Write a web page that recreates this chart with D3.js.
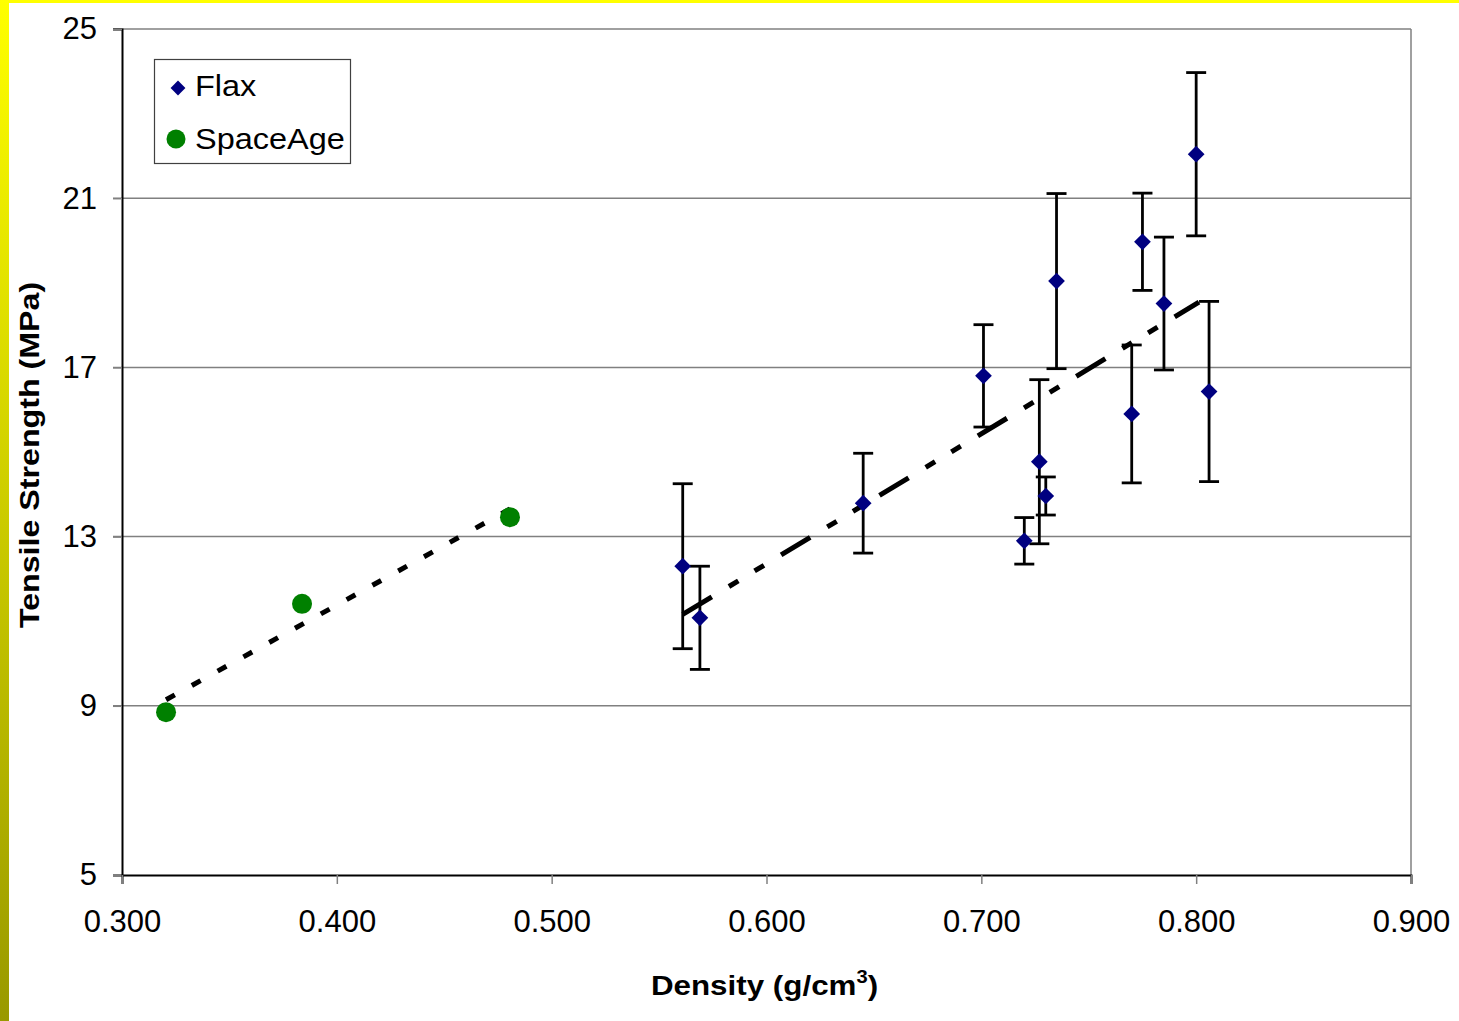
<!DOCTYPE html>
<html>
<head>
<meta charset="utf-8">
<script src="https://cdn.jsdelivr.net/npm/d3@7"></script>
<style>
  body { margin: 0; background: #fff; }
  svg { display: block; font-family: "Liberation Sans", Arial, sans-serif; }
</style>
</head>
<body>
<div id="chartContainer"></div>
<script>
// Flax samples: density, strength, error (+/-)
var flaxDensity = [0.561, 0.569, 0.645, 0.701, 0.720, 0.727, 0.730, 0.735, 0.770, 0.775, 0.785, 0.800, 0.806];
var flaxStrength = [12.30, 11.08, 13.79, 16.80, 12.90, 14.77, 13.96, 19.04, 15.90, 19.97, 18.51, 22.04, 16.43];
var flaxError = [1.95, 1.22, 1.18, 1.21, 0.55, 1.94, 0.45, 2.07, 1.63, 1.15, 1.57, 1.93, 2.13];
var flaxTrendRange = [0.561, 0.8013];

// SpaceAge samples
var spaceDensity = [0.3205, 0.3838, 0.4806];
var spaceStrength = [8.85, 11.41, 13.46];
var spaceTrendRange = [0.3205, 0.4806];

var yTicks = [5, 9, 13, 17, 21, 25];
var xTicks = [0.3, 0.4, 0.5, 0.6, 0.7, 0.8, 0.9];

var W = 1459, H = 1021;
var margin = {top: 29, right: 48, bottom: 146, left: 122};
var width = W - margin.left - margin.right,
    height = H - margin.top - margin.bottom;
var stretch = 1.12; // the titles/legend font runs wider than Liberation

var svg = d3.select("#chartContainer")
    .append("svg")
    .attr("width", W)
    .attr("height", H);

// yellow frame
var grad = svg.append("defs").append("linearGradient")
    .attr("id", "edge").attr("x1", 0).attr("y1", 0).attr("x2", 0).attr("y2", 1);
grad.append("stop").attr("offset", "0%").attr("stop-color", "#ffff00");
grad.append("stop").attr("offset", "100%").attr("stop-color", "#999900");
svg.append("rect").attr("x", 0).attr("y", 0).attr("width", W).attr("height", 3).attr("fill", "#ffff00");
svg.append("rect").attr("x", 0).attr("y", 0).attr("width", 9).attr("height", H).attr("fill", "url(#edge)");

var g = svg.append("g")
    .attr("transform", `translate(${margin.left},${margin.top})`);

var xScale = d3.scaleLinear().domain([0.3, 0.9]).range([0, width]);
var yScale = d3.scaleLinear().domain([5, 25]).range([height, 0]);

// gridlines + left ticks
g.append("g")
    .selectAll("line")
    .data(yTicks.slice(1))
    .join("line")
    .attr("x1", -9).attr("x2", width)
    .attr("y1", d => yScale(d)).attr("y2", d => yScale(d))
    .attr("stroke", "#808080").attr("stroke-width", 1.5);

// right border
g.append("line")
    .attr("x1", width).attr("x2", width).attr("y1", 0).attr("y2", height)
    .attr("stroke", "#808080").attr("stroke-width", 1.5);

// y axis
var yAxis = g.append("g")
    .call(d3.axisLeft(yScale).tickValues(yTicks).tickSize(9).tickPadding(16).tickFormat(d3.format("d")));
yAxis.select(".domain").attr("stroke", "#000").attr("stroke-width", 2);
yAxis.selectAll(".tick line").attr("stroke", "#808080").attr("stroke-width", 1.5);
yAxis.selectAll("text").attr("font-size", 31).attr("fill", "#000")
    .attr("font-family", "Liberation Sans, Arial, sans-serif");

// x axis
var xAxis = g.append("g")
    .attr("transform", `translate(0, ${height})`)
    .call(d3.axisBottom(xScale).tickValues(xTicks).tickSize(9).tickPadding(26).tickFormat(d3.format(".3f")));
xAxis.select(".domain").attr("stroke", "#000").attr("stroke-width", 2);
xAxis.selectAll(".tick line").attr("stroke", "#808080").attr("stroke-width", 1.5);
xAxis.selectAll("text").attr("font-size", 31).attr("fill", "#000")
    .attr("font-family", "Liberation Sans, Arial, sans-serif");

// linear fit
function fit(xs, ys) {
    var mx = d3.mean(xs), my = d3.mean(ys);
    var num = d3.sum(xs, (x, i) => (x - mx) * (ys[i] - my));
    var den = d3.sum(xs, x => (x - mx) * (x - mx));
    var b = num / den;
    return {b: b, a: my - b * mx};
}

function drawTrend(xs, ys, range, dash) {
    var f = fit(xs, ys);
    g.append("line")
        .attr("x1", xScale(range[0])).attr("y1", yScale(f.a + f.b * range[0]))
        .attr("x2", xScale(range[1])).attr("y2", yScale(f.a + f.b * range[1]))
        .attr("stroke", "#000").attr("stroke-width", 5)
        .attr("stroke-dasharray", dash);
}

// error bars
var flax = flaxDensity.map((d, i) => ({x: d, y: flaxStrength[i], e: flaxError[i]}));
var eb = g.append("g").selectAll("g").data(flax).join("g")
    .attr("stroke", "#000").attr("stroke-width", 2.8);
eb.append("line")
    .attr("x1", d => xScale(d.x)).attr("x2", d => xScale(d.x))
    .attr("y1", d => yScale(d.y - d.e)).attr("y2", d => yScale(d.y + d.e));
eb.append("line")
    .attr("x1", d => xScale(d.x) - 10).attr("x2", d => xScale(d.x) + 10)
    .attr("y1", d => yScale(d.y + d.e)).attr("y2", d => yScale(d.y + d.e));
eb.append("line")
    .attr("x1", d => xScale(d.x) - 10).attr("x2", d => xScale(d.x) + 10)
    .attr("y1", d => yScale(d.y - d.e)).attr("y2", d => yScale(d.y - d.e));

drawTrend(flaxDensity, flaxStrength, flaxTrendRange, "34 20 11 19 11 20");
drawTrend(spaceDensity, spaceStrength, spaceTrendRange, "10 19.5");

var diamond = d3.symbol().type(d3.symbolSquare).size(140);

g.append("g").selectAll("path").data(flax).join("path")
    .attr("d", diamond)
    .attr("transform", d => `translate(${xScale(d.x)},${yScale(d.y)}) rotate(45)`)
    .attr("fill", "#000080");

g.append("g").selectAll("circle").data(spaceDensity).join("circle")
    .attr("cx", d => xScale(d))
    .attr("cy", (d, i) => yScale(spaceStrength[i]))
    .attr("r", 10)
    .attr("fill", "#008000");

// legend
var lg = svg.append("g");
lg.append("rect").attr("x", 154.5).attr("y", 59.5).attr("width", 196).attr("height", 104)
    .attr("fill", "#fff").attr("stroke", "#404040").attr("stroke-width", 1.2);
lg.append("path").attr("d", d3.symbol().type(d3.symbolSquare).size(110))
    .attr("transform", "translate(178,88) rotate(45)").attr("fill", "#000080");
lg.append("circle").attr("cx", 176).attr("cy", 139).attr("r", 9.5).attr("fill", "#008000");
lg.append("text").attr("transform", `translate(195,96) scale(${stretch},1)`)
    .attr("font-size", 29).text("Flax");
lg.append("text").attr("transform", `translate(195,149) scale(${stretch},1)`)
    .attr("font-size", 29).text("SpaceAge");

// axis titles
var xt = svg.append("text")
    .attr("transform", `translate(${margin.left + xScale(0.6) - 2},995) scale(${stretch},1)`)
    .attr("text-anchor", "middle").attr("font-size", 28).attr("font-weight", "bold");
xt.append("tspan").text("Density (g/cm");
xt.append("tspan").attr("font-size", 18).attr("dy", -12).text("3");
xt.append("tspan").attr("dy", 12).text(")");

svg.append("text")
    .attr("transform", `translate(39, ${margin.top + yScale(14.93)}) rotate(-90) scale(1.15,1)`)
    .attr("text-anchor", "middle").attr("font-size", 28).attr("font-weight", "bold")
    .text("Tensile Strength (MPa)");
</script>
</body>
</html>
